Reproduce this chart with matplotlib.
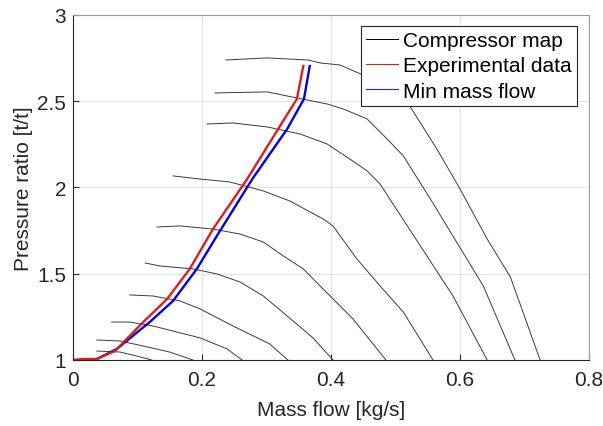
import matplotlib.pyplot as plt
from matplotlib.lines import Line2D
from matplotlib.ticker import FuncFormatter

plt.rcParams["font.family"] = ["Liberation Sans", "DejaVu Sans"]

# compressor map speed lines (mass flow [kg/s], pressure ratio)
speed1_x = [0.237, 0.301, 0.364, 0.383, 0.414, 0.453, 0.522, 0.564, 0.600, 0.642, 0.678, 0.724]
speed1_y = [2.739, 2.751, 2.739, 2.722, 2.710, 2.646, 2.472, 2.223, 1.991, 1.701, 1.481, 1.0]
speed2_x = [0.220, 0.301, 0.347, 0.394, 0.419, 0.456, 0.487, 0.512, 0.554, 0.636, 0.685]
speed2_y = [2.548, 2.554, 2.519, 2.484, 2.455, 2.397, 2.281, 2.183, 1.933, 1.429, 1.0]
speed3_x = [0.208, 0.248, 0.301, 0.352, 0.394, 0.429, 0.456, 0.476, 0.589, 0.642]
speed3_y = [2.368, 2.374, 2.351, 2.310, 2.252, 2.165, 2.096, 2.020, 1.371, 1.0]
speed4_x = [0.155, 0.197, 0.243, 0.295, 0.336, 0.388, 0.403, 0.440, 0.476, 0.512, 0.558]
speed4_y = [2.067, 2.049, 2.032, 1.980, 1.922, 1.817, 1.777, 1.586, 1.429, 1.278, 1.0]
speed5_x = [0.130, 0.166, 0.217, 0.259, 0.295, 0.326, 0.357, 0.383, 0.434, 0.485]
speed5_y = [1.771, 1.777, 1.759, 1.730, 1.684, 1.603, 1.528, 1.429, 1.238, 1.0]
speed6_x = [0.112, 0.135, 0.186, 0.223, 0.259, 0.295, 0.332, 0.372, 0.403]
speed6_y = [1.562, 1.545, 1.528, 1.499, 1.452, 1.371, 1.255, 1.128, 1.0]
speed7_x = [0.088, 0.124, 0.166, 0.197, 0.248, 0.305, 0.333]
speed7_y = [1.377, 1.371, 1.342, 1.296, 1.197, 1.093, 1.0]
speed8_x = [0.060, 0.088, 0.124, 0.155, 0.197, 0.239, 0.262]
speed8_y = [1.220, 1.220, 1.197, 1.168, 1.128, 1.064, 1.0]
speed9_x = [0.037, 0.073, 0.109, 0.150, 0.186]
speed9_y = [1.116, 1.110, 1.081, 1.046, 1.0]
speed10_x = [0.037, 0.073, 0.099, 0.122]
speed10_y = [1.052, 1.046, 1.023, 1.0]

speed_lines = [(speed1_x, speed1_y), (speed2_x, speed2_y), (speed3_x, speed3_y),
               (speed4_x, speed4_y), (speed5_x, speed5_y), (speed6_x, speed6_y),
               (speed7_x, speed7_y), (speed8_x, speed8_y), (speed9_x, speed9_y),
               (speed10_x, speed10_y)]

# experimental surge data
exp_x = [0.0, 0.016, 0.037, 0.065, 0.109, 0.146, 0.181, 0.217, 0.270, 0.321, 0.347, 0.357]
exp_y = [1.0, 1.006, 1.006, 1.052, 1.220, 1.354, 1.528, 1.759, 2.049, 2.357, 2.513, 2.704]

# min mass flow
min_x = [0.034, 0.068, 0.119, 0.155, 0.192, 0.223, 0.278, 0.332, 0.358, 0.367]
min_y = [1.0, 1.064, 1.220, 1.342, 1.528, 1.719, 2.049, 2.339, 2.513, 2.704]

fig = plt.figure(figsize=(6.03, 4.27), dpi=100)
ax = fig.add_axes([0.121, 0.1546, 0.856, 0.808])

for xs, ys in speed_lines:
    ax.plot(xs, ys, color="#3a3a3a", lw=0.7)
ax.plot(min_x, min_y, color="#0000e0", lw=1.7)
ax.plot(exp_x, exp_y, color="#dd1c1c", lw=1.7)

ax.set_xlim(0, 0.8)
ax.set_ylim(1, 3)
ax.set_xticks([0, 0.2, 0.4, 0.6, 0.8])
ax.set_yticks([1, 1.5, 2, 2.5, 3])
ax.xaxis.set_major_formatter(FuncFormatter(lambda v, p: "%g" % round(v, 3)))
ax.yaxis.set_major_formatter(FuncFormatter(lambda v, p: "%g" % round(v, 3)))
ax.grid(True, color="#e3e3e3", lw=0.8)
ax.set_axisbelow(True)
ax.tick_params(direction="in", length=4, width=0.8, colors="#262626",
               labelsize=15, top=False, right=False)
ax.tick_params(axis="x", pad=7)
ax.tick_params(axis="y", pad=5)
for s in ax.spines.values():
    s.set_color("#262626")
    s.set_linewidth(0.8)
ax.spines["top"].set_color("#9a9a9a")
ax.spines["right"].set_color("#9a9a9a")

ax.set_xlabel("Mass flow [kg/s]", fontsize=15, color="#262626", labelpad=8)
ax.set_ylabel("Pressure ratio [t/t]", fontsize=15, color="#262626", labelpad=3)

handles = [Line2D([], [], color="black", lw=0.7),
           Line2D([], [], color="#dd1c1c", lw=0.8),
           Line2D([], [], color="#2222dd", lw=0.8)]
leg = ax.legend(handles, ["Compressor map", "Experimental data", "Min mass flow"],
                loc="upper right", bbox_to_anchor=(0.977, 0.968), borderaxespad=0,
                fancybox=False, fontsize=15, handlelength=1.55, handletextpad=0.25,
                labelspacing=0.3, borderpad=0.25, framealpha=1)
leg.get_frame().set_edgecolor("#262626")
leg.get_frame().set_linewidth(0.8)

fig.savefig("out.png", dpi=100)
